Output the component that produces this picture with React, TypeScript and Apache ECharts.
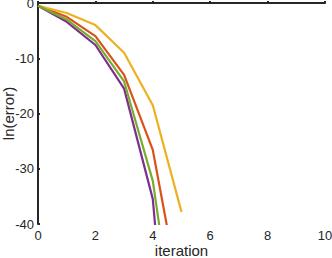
import React, { useEffect, useRef } from "react";
import * as echarts from "echarts";

const iterations = [0, 1, 2, 3, 4, 5];
const redValues = [-0.5, -2.5, -6.0, -13.0, -26.6, -54.5];
const yellowValues = [-0.5, -1.8, -4.0, -9.0, -18.5, -37.8];
const purpleValues = [-0.5, -3.4, -7.6, -15.5, -35.5, -94];
const greenValues = [-0.5, -3.0, -6.9, -14.2, -32.2, -68];
const xTicks = [0, 2, 4, 6, 8, 10];
const yTicks = [-40, -30, -20, -10, 0];

const seriesDefs = [
  { name: "red", color: "#D95319", values: redValues },
  { name: "yellow", color: "#EDB120", values: yellowValues },
  { name: "purple", color: "#7E2F8E", values: purpleValues },
  { name: "green", color: "#77AC30", values: greenValues },
];

const FONT = "'Liberation Sans', Arial, Helvetica, sans-serif";
const AX = "#262626";

export default function App() {
  const ref = useRef<HTMLDivElement>(null);
  useEffect(() => {
    document.body.style.margin = "0";
    if (!ref.current) return;
    const chart = echarts.init(ref.current, null, { renderer: "svg" });
    chart.setOption({
      animation: false,
      backgroundColor: "#ffffff",
      grid: { left: 38, right: 7, top: 3, bottom: 34, containLabel: false, outerBoundsMode: "none" },
      xAxis: {
        type: "value",
        min: xTicks[0],
        max: xTicks[xTicks.length - 1],
        interval: 2,
        name: "iteration",
        nameLocation: "middle",
        nameGap: 19,
        nameMoveOverlap: false,
        nameTextStyle: { color: AX, fontSize: 15, fontFamily: FONT },
        axisLine: { lineStyle: { color: AX, width: 2 } },
        axisTick: { inside: true, length: 2, lineStyle: { color: AX, width: 2 } },
        axisLabel: { color: AX, fontSize: 13, fontFamily: FONT, margin: 5 },
        splitLine: { show: false },
      },
      yAxis: {
        type: "value",
        min: yTicks[0],
        max: yTicks[yTicks.length - 1],
        interval: 10,
        name: "ln(error)",
        nameLocation: "middle",
        nameGap: 22,
        nameRotate: 90,
        nameMoveOverlap: false,
        nameTextStyle: { color: AX, fontSize: 15, fontFamily: FONT },
        axisLine: { show: true, lineStyle: { color: AX, width: 2 } },
        axisTick: { show: true, inside: true, length: 2, lineStyle: { color: AX, width: 2 } },
        axisLabel: { color: AX, fontSize: 13, fontFamily: FONT, margin: 4 },
        splitLine: { show: false },
      },
      series: seriesDefs.map((s) => ({
        type: "line",
        name: s.name,
        data: iterations.map((x, i) => [x, s.values[i]]),
        showSymbol: false,
        symbol: "none",
        clip: true,
        lineStyle: { color: s.color, width: 2.2 },
        itemStyle: { color: s.color },
      })),
    });
    return () => chart.dispose();
  }, []);
  return <div ref={ref} style={{ width: 332, height: 258 }} />;
}
